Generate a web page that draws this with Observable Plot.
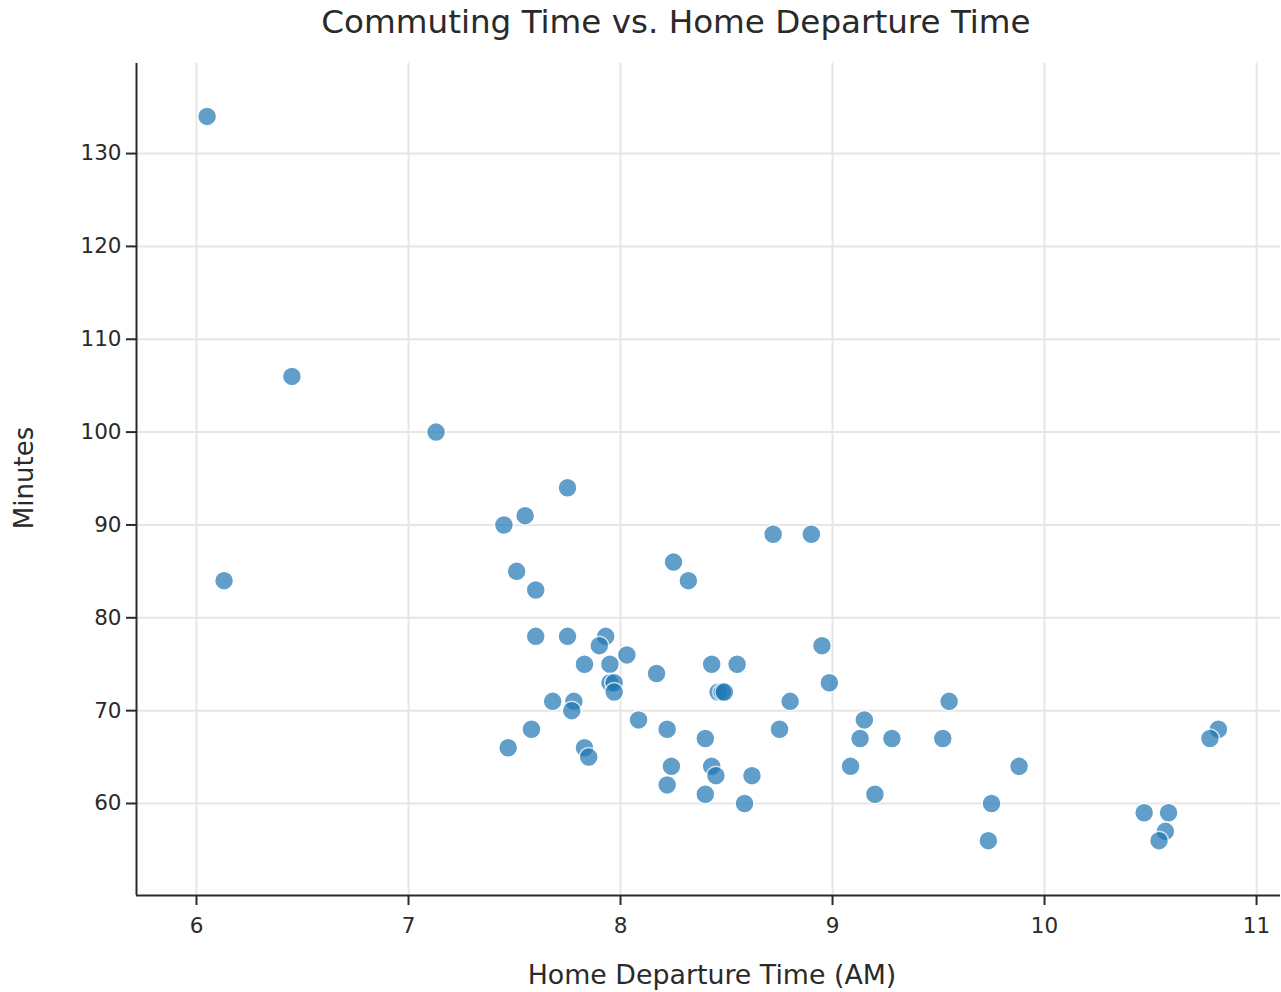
<!DOCTYPE html>
<html>
<head>
<meta charset="utf-8">
<script src="https://cdn.jsdelivr.net/npm/d3@7"></script>
<script src="https://cdn.jsdelivr.net/npm/@observablehq/plot@0.6"></script>
<style>
  html, body { margin: 0; padding: 0; background: #fff; }
  body { width: 1281px; height: 992px; overflow: hidden; font-family: "DejaVu Sans", Verdana, sans-serif; }
  #title { position: relative; height: 45px; }
  #title span { position: absolute; left: 676px; top: 22px; transform: translate(-50%, -50%); font-size: 32.6px; color: #2a2a2a; white-space: nowrap; line-height: 1; }
</style>
</head>
<body>
<div id="title"><span>Commuting Time vs. Home Departure Time</span></div>
<div id="chart"></div>
<script>
const departure = [6.05, 6.13, 6.45, 7.13, 7.45, 7.55, 7.75, 7.51, 7.60, 7.60, 7.75, 7.93, 7.90, 8.03, 7.83, 7.95, 7.95, 7.97, 7.97, 8.17, 7.68, 7.78, 7.77, 7.47, 7.58, 7.83, 7.85, 8.085, 8.22, 8.24, 8.22, 8.25, 8.32, 8.72, 8.90, 8.43, 8.55, 8.46, 8.48, 8.49, 8.40, 8.43, 8.45, 8.40, 8.585, 8.62, 8.75, 8.80, 8.95, 8.985, 9.085, 9.15, 9.13, 9.28, 9.20, 9.55, 9.52, 9.88, 9.75, 9.735, 10.47, 10.585, 10.57, 10.54, 10.82, 10.78];
const minutes   = [134, 84, 106, 100, 90, 91, 94, 85, 83, 78, 78, 78, 77, 76, 75, 75, 73, 73, 72, 74, 71, 71, 70, 66, 68, 66, 65, 69, 68, 64, 62, 86, 84, 89, 89, 75, 75, 72, 72, 72, 67, 64, 63, 61, 60, 63, 68, 71, 77, 73, 64, 69, 67, 67, 61, 71, 67, 64, 60, 56, 59, 59, 57, 56, 68, 67];
const xTicks = [6, 7, 8, 9, 10, 11];
const yTicks = [60, 70, 80, 90, 100, 110, 120, 130];
const xDomain = [5.717, 11.113];
const yDomain = [50.09, 139.7];
const xLabel = "Home Departure Time (AM)";
const yLabel = "Minutes";

const points = departure.map((d, i) => ({departure: d, minutes: minutes[i]}));
const ink = "#2a2a2a";

const chart = Plot.plot({
  width: 1281,
  height: 947,
  marginLeft: 136,
  marginRight: 1,
  marginTop: 18,
  marginBottom: 97,
  style: {fontFamily: "DejaVu Sans, Verdana, sans-serif", fontSize: "21.5px", color: ink, background: "#fff"},
  x: {domain: xDomain, ticks: xTicks},
  y: {domain: yDomain, ticks: yTicks},
  marks: [
    Plot.gridX(xTicks, {stroke: "#e6e6e6", strokeOpacity: 1, strokeWidth: 2}),
    Plot.gridY(yTicks, {stroke: "#e6e6e6", strokeOpacity: 1, strokeWidth: 2}),
    Plot.axisX(xTicks, {tickSize: 10, tickPadding: 12, stroke: ink, strokeWidth: 2, fill: ink, fontSize: 21.5, tickFormat: d => String(d), label: null}),
    Plot.axisY(yTicks, {tickSize: 10, tickPadding: 5, stroke: ink, strokeWidth: 2, fill: ink, fontSize: 21.5, tickFormat: d => String(d), label: null}),
    Plot.ruleX([xDomain[0]], {stroke: ink, strokeWidth: 2}),
    Plot.ruleY([yDomain[0]], {stroke: ink, strokeWidth: 2}),
    Plot.text([xLabel], {text: d => d, frameAnchor: "bottom", textAnchor: "middle", dx: 3.5, dy: 79.5, lineAnchor: "middle", fontSize: 26.8, fill: ink}),
    Plot.text([yLabel], {text: d => d, frameAnchor: "left", textAnchor: "middle", rotate: -90, dx: -111.5, dy: -1.5, lineAnchor: "middle", fontSize: 26, fill: ink}),
    Plot.dot(points, {x: "departure", y: "minutes", r: 9.5, fill: "#1f77b4", stroke: "#ffffff", strokeWidth: 1.5, opacity: 0.7})
  ]
});
document.getElementById("chart").appendChild(chart);
</script>
</body>
</html>
